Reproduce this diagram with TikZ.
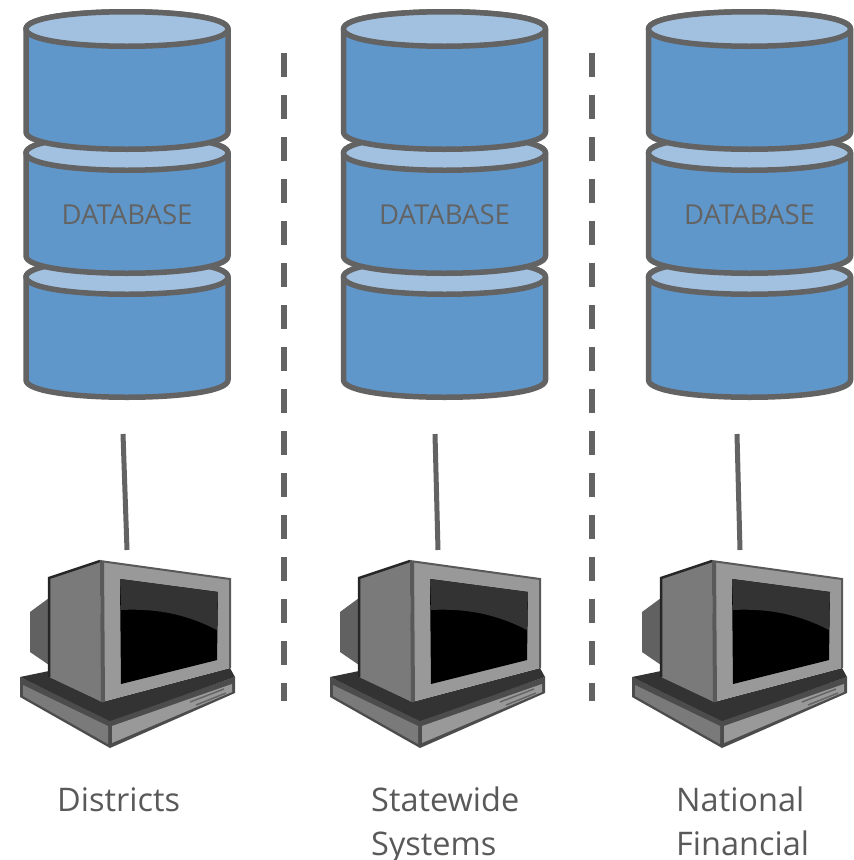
\documentclass[tikz,border=0pt]{standalone}
\usepackage{fontspec}
\setmainfont{Open Sans}
\usepackage{xcolor}
\definecolor{dbbody}{HTML}{6097CB}
\definecolor{dbtop}{HTML}{A2C1E0}
\definecolor{dbline}{HTML}{636363}
\tikzset{
	dbdrum/.style={draw=dbline, line width=5.5pt, line join=round},
	divider/.style={draw=dbline, line width=6pt, dash pattern=on 24pt off 18pt},
	link/.style={draw=dbline, line width=5pt},
	dblabel/.style={text=dbline, font=\fontsize{27.5}{30}\selectfont},
	sitelabel/.style={anchor=north west, align=left, text=dbline!90!black, inner sep=0pt, font=\fontsize{32.5}{44}\selectfont}
}

\begin{document}
\begin{tikzpicture}[x=1pt, y=-1pt]
	\useasboundingbox (0,0) rectangle (854,860);
	% the three columns
	\foreach \cx/\mx/\ax/\bx/\n in {127/0/123/127/dist, 444.5/310/435/438/state, 749.5/612/737/740/nat} {
		\begin{scope}[shift={(\cx,0)}]
			\foreach \y in {277, 153, 29} {
				\filldraw[dbdrum, fill=dbbody] (-101,\y) -- (-101,\y+103)
					.. controls (-101,\y+126) and (101,\y+126) .. (101,\y+103) -- (101,\y)
					.. controls (101,\y-23) and (-101,\y-23) .. cycle;
				\filldraw[dbdrum, fill=dbtop] (-101,\y)
					.. controls (-101,\y+23) and (101,\y+23) .. (101,\y)
					.. controls (101,\y-23) and (-101,\y-23) .. cycle;
			}
			\node[dblabel] (db\n) at (0,215) {DATABASE};
		\end{scope}
		\begin{scope}[shift={(\mx,0)}]
			% base
			\fill[black!70] (20,677) -- (110,720) -- (235,677) -- (235,693) -- (110,748) -- (20,697) -- cycle;
			\fill[black!52] (23,685) -- (108,726) -- (108,744) -- (23,696) -- cycle;
			\fill[black!40] (112,726) -- (232,684) -- (232,692) -- (112,743) -- cycle;
			\fill[black!80] (20,677) -- (49,671) -- (102,702) -- (230,668) -- (235,677) -- (110,721) -- cycle;
			\draw[black!60, line width=1.5pt] (190,702) -- (224,689);
			\draw[black!60, line width=1.5pt] (196,705) -- (226,693);
			% back of the case
			\fill[black!62] (49,598) -- (30,612) -- (30,652) -- (49,665) -- cycle;
			% side and front
			\fill[black!52] (49,578) -- (100,561) -- (102,702) -- (49,677) -- cycle;
			\draw[black!85, line width=2.5pt] (49,677) -- (49,578) -- (100,561);
			\fill[black!40] (100,561) -- (230,579) -- (230,668) -- (102,702) -- cycle;
			\draw[black!65, line width=2pt] (100,561) -- (230,579) -- (230,668);
			\draw[black!65, line width=4pt] (102,561) -- (103,702);
			% screen
			\fill[black] (120,579) -- (218,592) -- (217,660) -- (121,684) -- cycle;
			\fill[black!80] (120,579) -- (218,592) -- (217,630) .. controls (190,616) and (160,608) .. (121,610) -- cycle;
		\end{scope}
		\coordinate (top\n) at (\ax,434);
		\coordinate (bot\n) at (\bx,550);
		\draw[link] (top\n) -- (bot\n);
	}
	% dashed separators
	\foreach \x/\n in {284/a, 592/b} {
		\coordinate (sep\n) at (\x,53);
		\coordinate (end\n) at (\x,701);
		\draw[divider] (sep\n) -- (end\n);
	}
	\node[sitelabel] (districts) at (57,787) {Districts};
	\node[sitelabel] (statewide) at (371,787) {Statewide\\Systems};
	\node[sitelabel] (national) at (676,787) {National\\Financial};
\end{tikzpicture}
\end{document}
